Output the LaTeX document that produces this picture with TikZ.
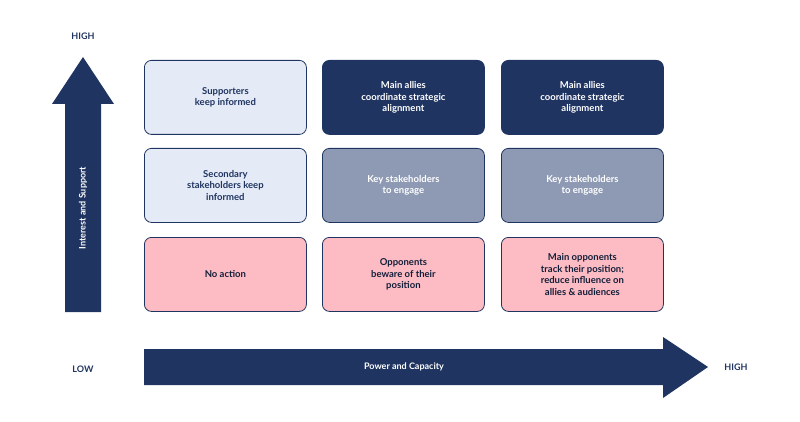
\documentclass[tikz,border=0pt]{standalone}
\usepackage{fontspec}
\setmainfont{Lato}
\definecolor{navy}{HTML}{1F3461}
\definecolor{lblue}{HTML}{E4EAF6}
\definecolor{gry}{HTML}{8E9AB3}
\definecolor{pnk}{HTML}{FDBCC3}
\tikzset{
 cell/.style={draw=navy,line width=0.8pt,rounded corners=7pt,minimum width=162pt,minimum height=74pt,align=center,font=\fontsize{9.5}{11.5}\selectfont\bfseries,anchor=north west},
 lb/.style={cell,fill=lblue,text=navy},
 dk/.style={cell,fill=navy,text=white},
 gr/.style={cell,fill=gry,text=white},
 pk/.style={cell,fill=pnk,text=navy!60!black},
 lab/.style={font=\fontsize{9}{11}\selectfont\bfseries,text=navy}
}
\begin{document}
\begin{tikzpicture}[x=1pt,y=-1pt]
\useasboundingbox (0,0) rectangle (800,422);
\node[lb] (a1) at (144,60) {Supporters\\keep informed};
\node[dk] (a2) at (322,60) {Main allies\\coordinate strategic\\alignment};
\node[dk] (a3) at (501,60) {Main allies\\coordinate strategic\\alignment};
\node[lb] (b1) at (144,148) {Secondary\\stakeholders keep\\informed};
\node[gr] (b2) at (322,148) {Key stakeholders\\to engage};
\node[gr] (b3) at (501,148) {Key stakeholders\\to engage};
\node[pk] (c1) at (144,237) {No action};
\node[pk] (c2) at (322,237) {Opponents\\beware of their\\position};
\node[pk] (c3) at (501,237) {Main opponents\\track their position;\\reduce influence on\\allies \& audiences};
\fill[navy] (65,312) -- (65,104) -- (52,104) -- (83,57) -- (114,104) -- (101,104) -- (101,312) -- cycle;
\fill[navy] (144,349) -- (663,349) -- (663,337) -- (708,367) -- (663,398) -- (663,385) -- (144,385) -- cycle;
\node[lab,text=white,rotate=90] (ya) at (83,208) {Interest and Support};
\node[lab,text=white] (xa) at (404,367) {Power and Capacity};
\node[lab] (hy) at (83,36) {HIGH};
\node[lab] (lo) at (83,369) {LOW};
\node[lab] (hx) at (736,367) {HIGH};
\end{tikzpicture}
\end{document}
